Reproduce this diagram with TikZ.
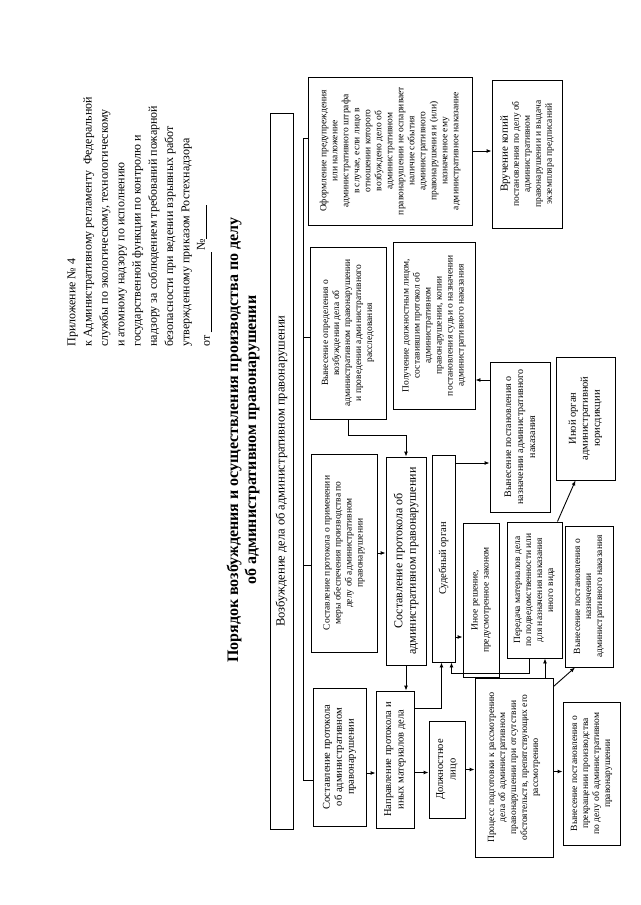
\documentclass[tikz,border=0pt]{standalone}
\usepackage{fontspec}
\setmainfont{Liberation Serif}
\usetikzlibrary{arrows.meta}

\newcommand{\vtxt}[2]{\rotatebox{90}{\parbox{#1}{\centering #2}}}

\begin{document}
\begin{tikzpicture}[x=1pt,y=-1pt,line width=0.9pt,>={Latex[length=5pt,width=4pt]},
  blk/.style={draw,inner sep=0pt,font=\fontsize{9.5}{11}\selectfont}]
  \useasboundingbox (0,0) rectangle (640,905);

  % header and title
  \node[rotate=90,anchor=north west,align=left,inner sep=0pt,
    font=\fontsize{12}{16.3}\selectfont] (hdr) at (67,347)
    {Приложение № 4\\
     к Административному регламенту \ Федеральной\\
     службы по экологическому, технологическому\\
     и атомному надзору по исполнению\\
     государственной функции по контролю и\\
     надзору за соблюдением требований пожарной\\
     безопасности при ведении взрывных работ\\
     утвержденному приказом Ростехнадзора\\[4pt]
     от \underline{\hspace{80pt}}\,\smash{\raisebox{5pt}{№\underline{\hspace{34pt}}}}};
  \node[rotate=90,align=center,font=\bfseries\fontsize{16}{18}\selectfont] (title) at (243,440)
    {Порядок возбуждения и осуществления производства по делу\\
     об административном правонарушении};

  % boxes
  \node[blk,minimum width=23pt,minimum height=716pt,font=\fontsize{12.5}{14}\selectfont] (vozb) at (281.5,471)
    {\rotatebox{90}{Возбуждение дела об административном правонарушении}};
  \node[blk,minimum width=164pt,minimum height=148pt] (oform) at (390,151)
    {\vtxt{144pt}{Оформление предупреждения\\ или наложение\\ административного штрафа\\
     в случае, если лицо в\\ отношении которого\\ возбуждено дело об\\ административном\\
     правонарушении не оспаривает\\ наличие события\\ административного\\
     правонарушения и (или)\\ назначенное ему\\ административное наказание}};
  \node[blk,minimum width=70pt,minimum height=148pt] (vruch) at (527,154)
    {\vtxt{140pt}{{\fontsize{11}{12}\selectfont Вручение копий}\\ постановления по делу об\\
     административном\\ правонарушении и выдача\\ экземпляра предписаний}};
  \node[blk,minimum width=76pt,minimum height=172pt] (opred) at (348,333)
    {\vtxt{164pt}{Вынесение определения о\\ возбуждении дела об\\ административном правонарушении\\
     и проведении административного\\ расследования}};
  \node[blk,minimum width=82pt,minimum height=167pt] (poluch) at (434,325.5)
    {\vtxt{160pt}{Получение должностным лицом,\\ составившим протокол об\\ административном\\
     правонарушении, копии\\ постановления судьи о назначении\\ административного наказания}};
  \node[blk,minimum width=66pt,minimum height=198pt] (mera) at (344,553)
    {\vtxt{190pt}{Составление протокола о применении\\ меры обеспечения производства по\\
     делу об административном\\ правонарушении}};
  \node[blk,minimum width=40pt,minimum height=208pt,font=\fontsize{12}{13.5}\selectfont] (protok) at (406,561)
    {\vtxt{200pt}{Составление протокола об\\ административном правонарушении}};
  \node[blk,minimum width=23pt,minimum height=207pt,font=\fontsize{10.5}{12}\selectfont] (sud) at (443.5,558.5)
    {\rotatebox{90}{Судебный орган}};
  \node[blk,minimum width=60pt,minimum height=150pt,font=\fontsize{10}{12}\selectfont] (naznG) at (520,437)
    {\vtxt{144pt}{Вынесение постановления о\\ назначении административного\\ наказания}};
  \node[blk,minimum width=59pt,minimum height=123pt,font=\fontsize{10.5}{12}\selectfont] (inoi) at (585.5,418.5)
    {\vtxt{115pt}{Иной орган\\ административной\\ юрисдикции}};
  \node[blk,minimum width=36pt,minimum height=154pt] (inoe) at (481,600)
    {\vtxt{146pt}{Иное решение,\\ предусмотренное законом}};
  \node[blk,minimum width=55pt,minimum height=136pt] (pered) at (534.5,590)
    {\vtxt{130pt}{Передача материалов дела\\ по подведомственности или\\ для назначения наказания\\ иного вида}};
  \node[blk,minimum width=48pt,minimum height=141pt] (naznL) at (589,596.5)
    {\vtxt{135pt}{Вынесение постановления о\\ назначении\\ административного наказания}};
  \node[blk,minimum width=53pt,minimum height=138pt,font=\fontsize{10.5}{12}\selectfont] (sost) at (339.5,757)
    {\vtxt{130pt}{Составление протокола\\ об административном\\ правонарушении}};
  \node[blk,minimum width=38pt,minimum height=137pt,font=\fontsize{10.5}{12.5}\selectfont] (naprav) at (395,759.5)
    {\vtxt{130pt}{Направление протокола и\\ иных материалов дела}};
  \node[blk,minimum width=36pt,minimum height=97pt,font=\fontsize{10.5}{12.5}\selectfont] (dolzh) at (447,769.5)
    {\vtxt{90pt}{Должностное\\ лицо}};
  \node[blk,minimum width=78pt,minimum height=179pt] (process) at (514,767.5)
    {\vtxt{172pt}{Процесс подготовки к рассмотрению\\ дела об административном\\
     правонарушении при отсутствии\\ обстоятельств, препятствующих его\\ рассмотрению}};
  \node[blk,minimum width=57pt,minimum height=143pt] (prekr) at (591.5,773.5)
    {\vtxt{137pt}{Вынесение постановления о\\ прекращении производства\\
     по делу об административном\\ правонарушении}};

  % bus from the first box
  \coordinate (b1) at (303,138);
  \coordinate (b2) at (303,337);
  \coordinate (b3) at (303,565);
  \coordinate (b4) at (303,780);
  \draw (b1) -- (b4);
  \draw (b1) -- (b1 -| oform.west);
  \draw (b2) -- (b2 -| opred.west);
  \draw (b3) -- (b3 -| mera.west);
  \draw (b4) -- (b4 -| sost.west);

  % arrows
  \draw[->] (oform.east) -- (oform.east -| vruch.west);
  \draw[->] (opred.south) -- ++(0,16) -| (protok.north);
  \draw[->] (mera.east) -- (mera.east -| protok.west);
  \draw[->] (protok.south) -- (protok.south |- naprav.north);
  \draw[->] ([yshift=-16pt]sost.east) -- ([yshift=-16pt]sost.east -| naprav.west);
  \draw[->] ([yshift=-13pt]naprav.east) -- ([yshift=-13pt]naprav.east -| dolzh.west);
  \draw[->] (dolzh.east) -- (dolzh.east -| process.west);
  \draw[->] ([yshift=51pt]naprav.east) -| ([xshift=-2pt]sud.south);
  \draw[->] ([xshift=-5pt]pered.south) -- ++(0,15) -| ([xshift=8pt]sud.south);
  \draw[->] ([yshift=-26pt]naznG.west -| sud.east) -- ([yshift=-26pt]naznG.west);
  \draw[->] ([yshift=-37pt]inoe.west -| sud.east) -- ([yshift=-37pt]inoe.west);
  \draw[->] ([yshift=57pt]naznG.west) -- ([yshift=57pt]naznG.west -| poluch.east);
  \draw[->] ([xshift=-5pt]pered.north east) -- ([xshift=-10pt]inoi.south);
  \draw[->] ([xshift=31pt]process.north) -- ([xshift=31pt]process.north |- pered.south);
  \draw[->] ([yshift=-9pt]process.north east) -- ([xshift=-14pt]naznL.south);
  \draw[->] ([yshift=-4pt]process.east) -- ([yshift=-4pt]process.east -| prekr.west);
\end{tikzpicture}
\end{document}
